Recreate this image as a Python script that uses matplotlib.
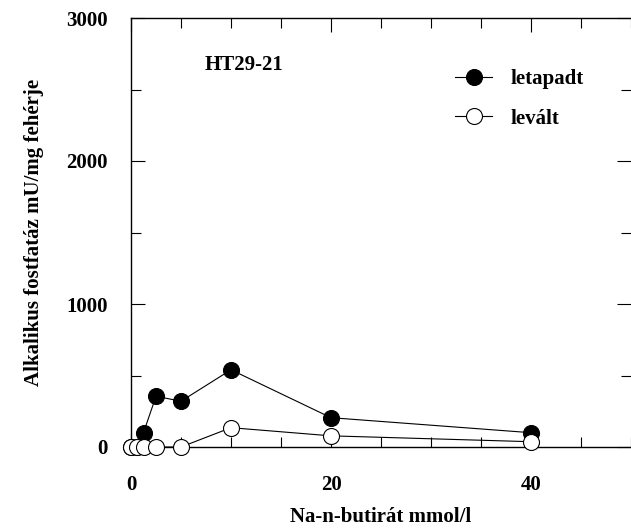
import matplotlib
matplotlib.use("Agg")
import matplotlib.pyplot as plt
from matplotlib.ticker import MultipleLocator

plt.rcParams['font.family'] = ['Liberation Serif', 'DejaVu Serif']
plt.rcParams['font.weight'] = 'bold'

x_letapadt = [0, 0.6, 1.25, 2.5, 5, 10, 20, 40]
y_letapadt = [0, 0, 100, 355, 320, 540, 205, 100]
x_levalt = [0, 0.6, 1.25, 2.5, 5, 10, 20, 40]
y_levalt = [0, 0, 0, 0, 0, 135, 78, 37]
x_ticks = [0, 20, 40]
y_ticks = [0, 1000, 2000, 3000]
title_text = "HT29-21"
xlabel = "Na-n-butirát mmol/l"
ylabel = "Alkalikus fostfatáz mU/mg fehérje"

FS = 15
W, H = 631, 529
fig = plt.figure(figsize=(W/100, H/100), dpi=100)
ax = fig.add_axes([131/W, (H-447)/H, (631-131)/W, (447-18)/H])

ms = 11.5
ax.plot(x_letapadt, y_letapadt, '-', color='black', lw=0.8, marker='o', ms=ms,
        mfc='black', mec='black', mew=0.8, clip_on=False, zorder=3, label='letapadt')
ax.plot(x_levalt, y_levalt, '-', color='black', lw=0.8, marker='o', ms=ms,
        mfc='white', mec='black', mew=0.8, clip_on=False, zorder=4, label='levált')

ax.set_xlim(0, 50)
ax.set_ylim(0, 3000)
ax.set_xticks(x_ticks)
ax.set_yticks(y_ticks)
ax.xaxis.set_minor_locator(MultipleLocator(5))
ax.yaxis.set_minor_locator(MultipleLocator(500))
ax.tick_params(which='both', direction='in', top=True, right=True, width=0.8,
               labelsize=FS)
ax.tick_params(which='major', length=10)
ax.tick_params(which='minor', length=7)
ax.tick_params(axis='x', which='major', pad=20)
ax.tick_params(axis='y', which='major', pad=17)
ax.spines['right'].set_visible(False)
for s in ['left', 'top', 'bottom']:
    ax.spines[s].set_linewidth(1.0)
for lab in ax.get_xticklabels() + ax.get_yticklabels():
    lab.set_fontweight('bold')

ax.set_xlabel(xlabel, fontsize=FS, fontweight='bold', labelpad=9)
ax.set_ylabel(ylabel, fontsize=FS, fontweight='bold', labelpad=16)

ax.text(7.4, 2670, title_text, fontsize=FS, fontweight='bold', va='center', ha='left')

leg = ax.legend(loc='upper left', bbox_to_anchor=(0.61, 0.925), frameon=False,
                handlelength=1.8, handletextpad=0.9, labelspacing=0.95,
                prop={'weight': 'bold', 'size': FS})

fig.savefig("out.png", dpi=100)
